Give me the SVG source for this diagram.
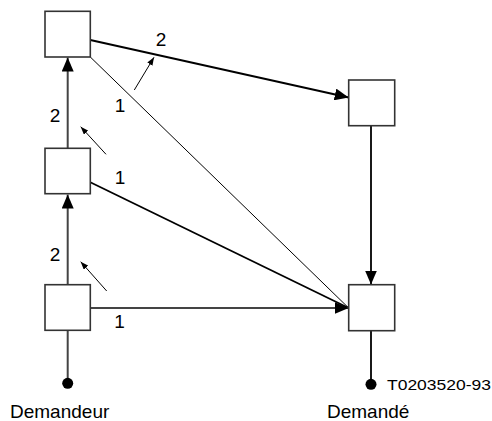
<svg xmlns="http://www.w3.org/2000/svg" width="492" height="421" viewBox="0 0 492 421">
<style>
.box{fill:#fff;stroke:#333;stroke-width:1.6}
.lbl{font-family:"Liberation Sans",Arial,sans-serif;fill:#000}
.num{font-size:19px;text-anchor:middle}
.cap{font-size:19px}
.thick{stroke:#000;stroke-width:1.8;fill:none}
.gray{stroke:#444;stroke-width:2;fill:none}
.thin{stroke:#000;stroke-width:1;fill:none}
.small{stroke:#000;stroke-width:1;fill:none}
</style>
<defs>
<marker id="big" markerUnits="userSpaceOnUse" markerWidth="14" markerHeight="12" refX="14" refY="6" orient="auto" viewBox="0 0 14 12">
<path d="M0,0 L14,6 L0,12 z" fill="#000"/>
</marker>
<marker id="sm" markerUnits="userSpaceOnUse" markerWidth="8" markerHeight="6" refX="8" refY="3" orient="auto" viewBox="0 0 8 6">
<path d="M0,0 L8,3 L0,6 z" fill="#000"/>
</marker>
</defs>
<g id="connectors">
<line class="gray" x1="67.7" y1="148" x2="67.7" y2="57.5" marker-end="url(#big)"/>
<line class="gray" x1="67.7" y1="285" x2="67.7" y2="194.5" marker-end="url(#big)"/>
<line class="gray" x1="67.7" y1="330" x2="67.7" y2="383"/>
<line class="thick" x1="90.3" y1="40" x2="348.7" y2="97.5" marker-end="url(#big)"/>
<line class="thin" x1="90.3" y1="57" x2="348.7" y2="308"/>
<line class="thick" x1="90.3" y1="182.3" x2="348.7" y2="308"/>
<line class="gray" x1="90.3" y1="308" x2="348.7" y2="308" marker-end="url(#big)"/>
<line class="thick" x1="371" y1="126" x2="371" y2="284.5" marker-end="url(#big)"/>
<line class="thick" x1="371" y1="331" x2="371" y2="384"/>
<circle cx="67.7" cy="383.3" r="5.5" fill="#000"/>
<circle cx="371" cy="384.3" r="5.5" fill="#000"/>
<line class="small" x1="134.3" y1="90" x2="154" y2="57.3" marker-end="url(#sm)"/>
<line class="small" x1="106" y1="154.3" x2="80.7" y2="126.7" marker-end="url(#sm)"/>
<line class="small" x1="106.7" y1="291" x2="80.7" y2="261.7" marker-end="url(#sm)"/>
</g>
<g id="n1"><rect class="box" x="45" y="11.3" width="45.3" height="45.7"/></g>
<g id="n2"><rect class="box" x="45" y="148.3" width="45.3" height="45.4"/></g>
<g id="n3"><rect class="box" x="45" y="284.7" width="45.3" height="45.6"/></g>
<g id="n4"><rect class="box" x="348.7" y="80" width="46" height="45.7"/></g>
<g id="n5"><rect class="box" x="348.7" y="284.7" width="46" height="46"/></g>
<g id="labels">
<text class="lbl num" x="161" y="45.5">2</text>
<text class="lbl num" x="120" y="112">1</text>
<text class="lbl num" x="55" y="122">2</text>
<text class="lbl num" x="120" y="183.5">1</text>
<text class="lbl num" x="55" y="260.5">2</text>
<text class="lbl num" x="119.5" y="328">1</text>
<text class="lbl cap" x="10" y="418">Demandeur</text>
<text class="lbl cap" x="327" y="418">Demandé</text>
<text class="lbl" x="387" y="390" font-size="14" textLength="104" lengthAdjust="spacingAndGlyphs">T0203520-93</text>
</g>
</svg>
